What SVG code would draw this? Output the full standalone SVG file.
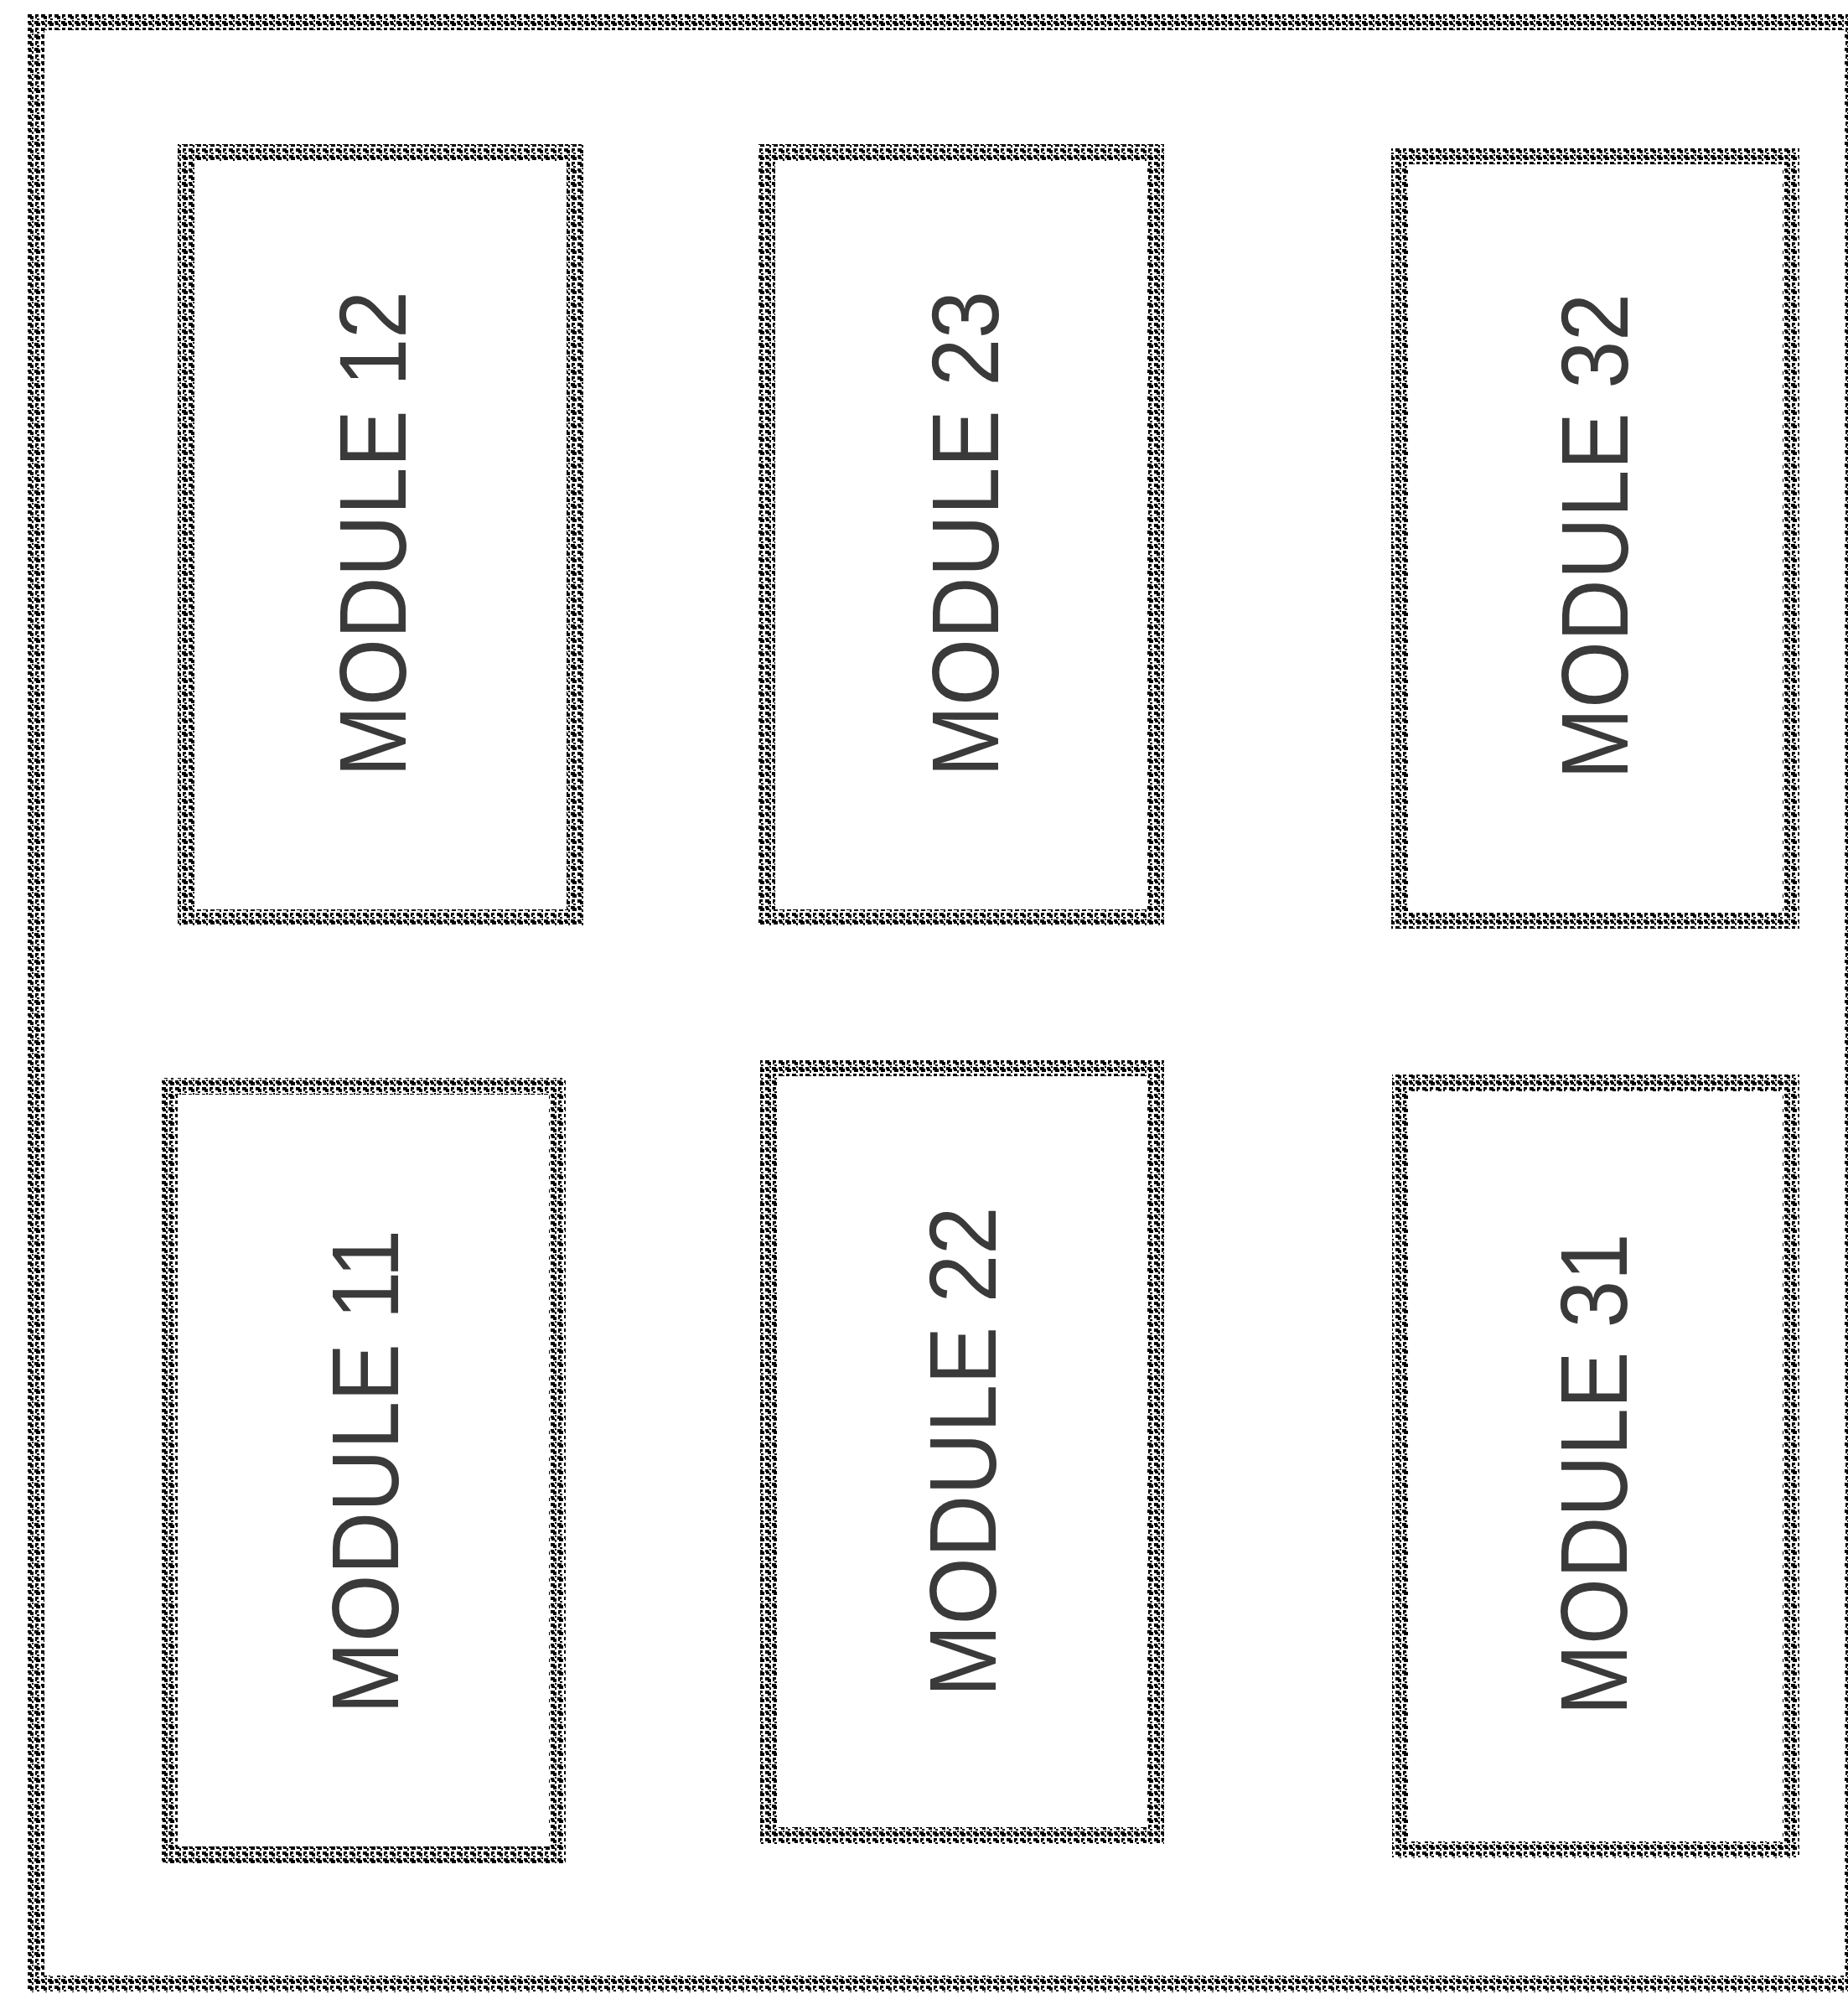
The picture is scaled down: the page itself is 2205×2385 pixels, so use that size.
<svg xmlns="http://www.w3.org/2000/svg" width="2205" height="2385" viewBox="0 0 2205 2385">
  <defs>
    <pattern id="dither" patternUnits="userSpaceOnUse" width="16" height="16">
      <rect width="16" height="16" fill="#ffffff"/>
      <path d="M1 1h5v2h2v4h-4v-2h-3z M9 9h5v2h2v4h-5v-2h-2z M10 1h4v3h-2v2h-2z M1 9h4v2h1v3h-4v-2h-1z M12 6h3v2h-3z M6 13h2v3h-2z M6 8h2v2h-2z" fill="#000000"/>
    </pattern>
  </defs>
  <style>
    .frame { fill: none; stroke: url(#dither); stroke-width: 20; }
    .box { fill: none; stroke: url(#dither); stroke-width: 20; }
    .label { font-family: "Liberation Sans", Arial, sans-serif; font-size: 114px; fill: #3a3a3a; text-anchor: middle; }
  </style>
  <rect width="2205" height="2385" fill="#ffffff"/>
  <rect id="outer" class="frame" x="43" y="26" width="2167" height="2341"/>

  <g id="module12">
    <rect class="box" x="222" y="182" width="464" height="913"/>
    <text class="label" transform="translate(484,637) rotate(-90)" textLength="580" lengthAdjust="spacingAndGlyphs">MODULE 12</text>
  </g>
  <g id="module23">
    <rect class="box" x="915" y="182" width="464" height="913"/>
    <text class="label" transform="translate(1191,637) rotate(-90)" textLength="580" lengthAdjust="spacingAndGlyphs">MODULE 23</text>
  </g>
  <g id="module32">
    <rect class="box" x="1670" y="186" width="467" height="912"/>
    <text class="label" transform="translate(1942,640) rotate(-90)" textLength="580" lengthAdjust="spacingAndGlyphs">MODULE 32</text>
  </g>
  <g id="module11">
    <rect class="box" x="202" y="1296" width="463" height="917"/>
    <text class="label" transform="translate(475,1756) rotate(-90)" textLength="578" lengthAdjust="spacingAndGlyphs">MODULE 11</text>
  </g>
  <g id="module22">
    <rect class="box" x="917" y="1274" width="462" height="916"/>
    <text class="label" transform="translate(1188,1732) rotate(-90)" textLength="585" lengthAdjust="spacingAndGlyphs">MODULE 22</text>
  </g>
  <g id="module31">
    <rect class="box" x="1671" y="1292" width="466" height="915"/>
    <text class="label" transform="translate(1941,1759) rotate(-90)" textLength="575" lengthAdjust="spacingAndGlyphs">MODULE 31</text>
  </g>
  <g id="connectors"></g>
</svg>
